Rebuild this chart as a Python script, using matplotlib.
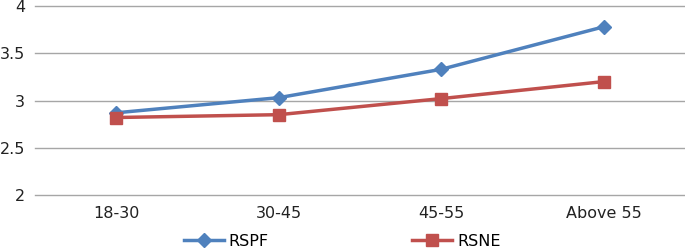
import matplotlib
matplotlib.use("Agg")
import matplotlib.pyplot as plt

categories = ["18-30", "30-45", "45-55", "Above 55"]
rspf = [2.87, 3.03, 3.33, 3.78]
rsne = [2.82, 2.85, 3.02, 3.20]
yticks = [2, 2.5, 3, 3.5, 4]
ytick_labels = ["2", "2.5", "3", "3.5", "4"]

W, H = 685, 249
fig = plt.figure(figsize=(W/100, H/100), dpi=100)
ax = fig.add_axes([35/W, 1-195/H, 1-35/W, 189/H])
x = list(range(len(categories)))
ax.plot(x, rspf, color="#4F81BD", lw=2.5, marker="D", ms=7, label="RSPF")
ax.plot(x, rsne, color="#C0504D", lw=2.5, marker="s", ms=9, label="RSNE")
ax.set_xlim(-0.5, 3.5)
ax.set_ylim(2, 4)
ax.set_yticks(yticks)
ax.set_yticklabels(ytick_labels)
ax.set_xticks(x)
ax.set_xticklabels(categories)
ax.tick_params(length=0, labelsize=11.5, pad=8)
ax.tick_params(axis="y", pad=7)
for s in ax.spines.values():
    s.set_visible(False)
ax.grid(axis="y", color="#A6A6A6", lw=1)
for gl in ax.get_ygridlines():
    gl.set_clip_on(False)
ax.set_axisbelow(True)
for lab in ax.get_yticklabels() + ax.get_xticklabels():
    lab.set_color("#222222")
leg = fig.legend(loc="center", bbox_to_anchor=(342/W, 1-241/H), ncol=2, frameon=False,
                 fontsize=11.5, columnspacing=9.0, handlelength=2.5, handletextpad=0.3)
fig.savefig("out.png", dpi=100)
